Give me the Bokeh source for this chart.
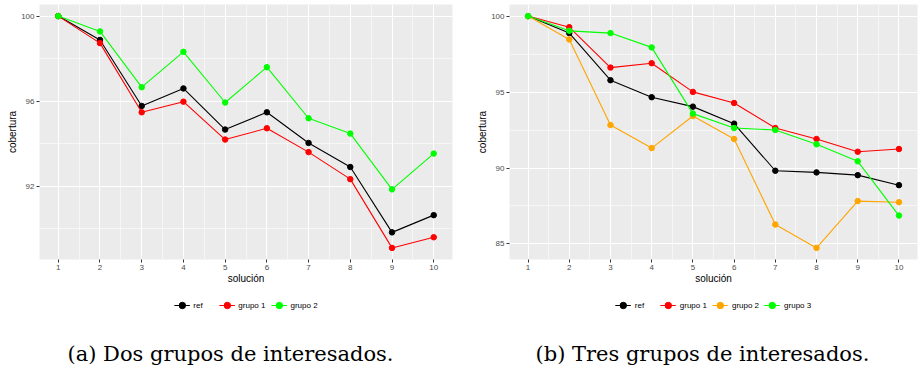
from bokeh.plotting import figure
from bokeh.layouts import row, column
from bokeh.models import FixedTicker, Legend, LegendItem, Label, Range1d
from bokeh.embed import file_html
from bokeh.resources import INLINE

# ---------------- data ----------------
solucion = [1, 2, 3, 4, 5, 6, 7, 8, 9, 10]
x_minor = [1.5, 2.5, 3.5, 4.5, 5.5, 6.5, 7.5, 8.5, 9.5]

# (a) two groups
a_names = ["ref", "grupo 1", "grupo 2"]
a_ref = [100, 98.88, 95.78, 96.60, 94.67, 95.48, 94.04, 92.91, 89.84, 90.65]
a_g1 = [100, 98.73, 95.48, 95.98, 94.20, 94.73, 93.61, 92.34, 89.11, 89.61]
a_g2 = [100, 99.28, 96.66, 98.32, 95.94, 97.60, 95.20, 94.48, 91.86, 93.54]
a_yticks = [92, 96, 100]
a_yminor = [90, 94, 98]
a_caption = "(a) Dos grupos de interesados."

# (b) three groups
b_names = ["ref", "grupo 1", "grupo 2", "grupo 3"]
b_ref = [100, 98.88, 95.78, 94.66, 94.04, 92.92, 89.82, 89.71, 89.53, 88.87]
b_g1 = [100, 99.27, 96.61, 96.90, 95.01, 94.28, 92.63, 91.91, 91.07, 91.25]
b_g2 = [100, 98.46, 92.83, 91.31, 93.42, 91.91, 86.28, 84.74, 87.82, 87.75]
b_g3 = [100, 99.03, 98.88, 97.94, 93.58, 92.63, 92.50, 91.56, 90.44, 86.87]
b_yticks = [85, 90, 95, 100]
b_yminor = [87.5, 92.5, 97.5]
b_caption = "(b) Tres grupos de interesados."

x_label = "solución"
y_label = "cobertura"

colors_a = ["#000000", "#FF0000", "#00FF00"]
colors_b = ["#000000", "#FF0000", "#FFA500", "#00FF00"]

SANS = "Liberation Sans"
PLOT_H = 291
FOOT_H = 78


def make_plot(series, colors, yticks, yminor, width, min_left, min_right):
    allv = [v for s in series for v in s]
    lo, hi = min(allv), max(allv)
    pad = 0.05 * (hi - lo)
    p = figure(output_backend="svg", toolbar_location=None,
               width=width, height=PLOT_H,
               min_border_left=min_left, min_border_right=min_right,
               min_border_top=4, min_border_bottom=32,
               x_range=Range1d(0.55, 10.45), y_range=Range1d(lo - pad, hi + pad))
    p.background_fill_color = "#EBEBEB"
    p.border_fill_color = "white"
    p.outline_line_color = None

    p.xaxis.ticker = FixedTicker(ticks=solucion, minor_ticks=x_minor)
    p.yaxis.ticker = FixedTicker(ticks=yticks, minor_ticks=yminor)
    for g in (p.xgrid, p.ygrid):
        g.grid_line_color = "white"
        g.grid_line_width = 1.1
        g.minor_grid_line_color = "white"
        g.minor_grid_line_width = 0.55
    for ax in (p.xaxis, p.yaxis):
        ax.axis_line_color = None
        ax.major_tick_line_color = "#333333"
        ax.major_tick_in = 0
        ax.major_tick_out = 3
        ax.minor_tick_line_color = None
        ax.major_label_text_font = SANS
        ax.major_label_text_font_size = "8px"
        ax.major_label_text_color = "#4D4D4D"
        ax.major_label_standoff = 1
        ax.axis_label_text_font = SANS
        ax.axis_label_text_font_size = "10px"
        ax.axis_label_text_font_style = "normal"
        ax.axis_label_text_color = "#000000"
        ax.axis_label_standoff = 0
    p.xaxis.axis_label = x_label
    p.yaxis.axis_label = y_label

    for s, c in zip(series, colors):
        p.line(solucion, s, line_color=c, line_width=1.1)
        p.scatter(solucion, s, size=5.5, fill_color=c, line_color=c)
    return p


def make_footer(series, names, colors, caption, width, min_left, min_right, cap_x):
    f = figure(output_backend="svg", toolbar_location=None,
               width=width, height=FOOT_H,
               min_border_left=min_left, min_border_right=min_right,
               min_border_top=0, min_border_bottom=0,
               x_range=Range1d(0, 1), y_range=Range1d(0, 1))
    f.axis.visible = False
    f.grid.visible = False
    f.outline_line_color = None
    f.background_fill_color = "white"
    f.border_fill_color = "white"

    items = []
    for s, name, c in zip(series, names, colors):
        l = f.line(solucion, s, line_color=c, line_width=1.1, visible=False)
        m = f.scatter(solucion, s, size=5.5, fill_color=c, line_color=c, visible=False)
        items.append(LegendItem(label=name, renderers=[l, m]))

    leg = Legend(items=items, orientation="horizontal", location="top_center",
                 glyph_width=16, glyph_height=16, label_height=16,
                 label_standoff=4, spacing=5, padding=0, margin=6,
                 label_text_font=SANS, label_text_font_size="8px",
                 label_text_color="#000000",
                 inactive_fill_alpha=0,
                 background_fill_alpha=0, border_line_color=None)
    f.add_layout(leg, "center")

    f.add_layout(Label(x=cap_x, y=16, x_units="screen", y_units="screen",
                       text=caption, text_align="left",
                       text_baseline="alphabetic",
                       text_font="DejaVu Serif", text_font_size="21px",
                       text_color="#000000"))
    return f


pa = make_plot([a_ref, a_g1, a_g2], colors_a, a_yticks, a_yminor,
               width=460, min_left=39, min_right=8)
pb = make_plot([b_ref, b_g1, b_g2, b_g3], colors_b, b_yticks, b_yminor,
               width=458, min_left=49, min_right=1)
fa = make_footer([a_ref, a_g1, a_g2], a_names, colors_a, a_caption,
                 width=460, min_left=39, min_right=8, cap_x=28)
fb = make_footer([b_ref, b_g1, b_g2, b_g3], b_names, colors_b, b_caption,
                 width=458, min_left=49, min_right=1, cap_x=26)

layout = column(row(pa, pb), row(fa, fb))
open("out.html", "w").write(file_html(layout, INLINE))
